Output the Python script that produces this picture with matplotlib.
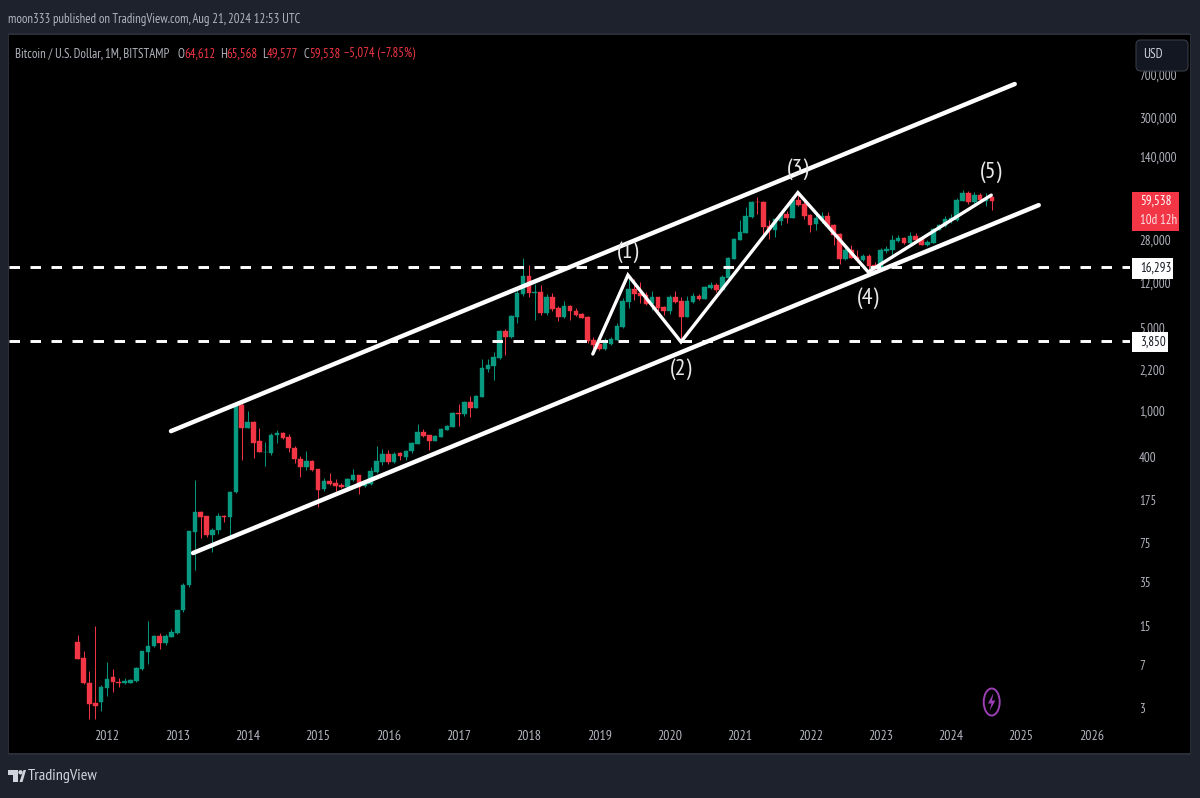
import matplotlib
matplotlib.use("Agg")
import matplotlib.pyplot as plt
from matplotlib.patches import Rectangle, Ellipse, Polygon, FancyBboxPatch
import numpy as np

W, H = 1200, 798

# monthly candles, Aug 2011 to Aug 2024
opens = [
    10.9, 8.0, 4.9, 3.3, 3.35,
    4.42, 5.5, 4.95, 4.85, 4.85, 5.1, 6.4, 8.95, 10, 12.2, 10.6, 12,
    13, 20.3, 33, 93, 137, 127, 87, 96, 127, 125, 203, 1108,
    708, 797, 549, 445, 435, 618, 640, 590, 478, 386, 330, 372,
    318, 216, 252, 242, 233, 224, 257, 283, 228, 236, 300, 365,
    430, 368, 437, 405, 448, 518, 655, 620, 549, 595, 681, 727,
    950, 930, 1185, 1045, 1302, 2240, 2370, 2770, 4700, 4170, 6170, 9640,
    13700, 9900, 10000, 6650, 9100, 7370, 6170, 7660, 6930, 6530, 6170, 3960,
    3650, 3290, 3650, 3960, 5080, 8270, 10630, 9930, 9500, 7950, 9100, 7500,
    6940, 9100, 8520, 6170, 8250, 9290, 8780, 10800, 11500, 10470, 13200, 19270,
    27700, 32000, 43300, 58800, 57900, 36500, 33600, 40100, 46000, 43000, 60500, 56000,
    45300, 38000, 41700, 44300, 37300, 31300, 19000, 22800, 19800, 18700, 20400, 17000,
    16000, 22200, 22800, 27200, 29000, 26000, 30000, 29000, 25300, 26400, 33800, 36600,
    40900, 40900, 59300, 69300, 58000, 66500, 59900, 64612,
]
highs = [
    12.5, 9.1, 6.2, 14.8, 4.7,
    7.35, 6.4, 5.4, 5.4, 5.25, 6.7, 9.2, 16.4, 12.5, 12.9, 12.7, 13.9,
    20.5, 34.5, 95, 256, 141, 128, 101, 135, 129, 207, 1155, 1150,
    982, 815, 708, 538, 640, 681, 660, 625, 495, 410, 452, 379,
    318, 267, 294, 262, 243, 266, 315, 283, 243, 332, 498, 467,
    465, 445, 440, 461, 539, 767, 695, 620, 612, 705, 755, 970,
    1130, 1200, 1320, 1340, 2720, 2700, 3120, 4800, 4850, 6450, 11130, 19500,
    17000, 11700, 11520, 9650, 9800, 7600, 8450, 7750, 7400, 6700, 6300, 4140,
    3990, 4070, 4150, 5480, 8880, 13970, 12970, 12200, 10000, 10200, 9200, 7650,
    9400, 10200, 9150, 9290, 9900, 9600, 11400, 12200, 12000, 13900, 19900, 29000,
    41000, 53100, 59000, 64000, 59000, 41000, 42000, 47000, 48600, 61500, 69000, 59000,
    46500, 45800, 48000, 47500, 38000, 31900, 24000, 25000, 22700, 21000, 21100, 18000,
    23700, 24900, 30500, 30500, 29500, 32500, 31500, 30000, 27500, 35000, 38000, 44500,
    46500, 63000, 73500, 72500, 70500, 70000, 70000, 65568,
]
lows = [
    7.8, 4.8, 2.4, 2.4, 2.83,
    3.79, 4.1, 4.5, 4.8, 4.85, 5.0, 6.35, 7.1, 9.8, 9.5, 10.2, 12,
    12.8, 19.7, 32, 44, 82, 85, 63, 90, 113, 85, 200, 379,
    705, 394, 440, 337, 420, 525, 570, 445, 355, 272, 312, 305,
    152, 208, 233, 207, 220, 216, 253, 195, 224, 233, 294, 344,
    350, 360, 379, 378, 436, 518, 590, 461, 545, 590, 675, 720,
    740, 900, 875, 1040, 1300, 2100, 1810, 2700, 2930, 4100, 5520, 9300,
    9100, 5800, 6400, 6400, 7000, 5750, 6060, 5880, 6300, 6000, 3700, 3250,
    3240, 3240, 3600, 3930, 4950, 7360, 8600, 8060, 7800, 7100, 6520, 6450,
    6500, 8050, 3950, 6150, 8100, 8600, 8700, 10600, 10000, 10400, 13200, 19000,
    27500, 31500, 42800, 45800, 29500, 28300, 29200, 37300, 38500, 42800, 53500, 42000,
    32500, 33800, 38500, 36000, 25100, 17400, 18700, 19500, 18200, 18300, 15000, 15900,
    15500, 21400, 19600, 26900, 25800, 24800, 27500, 25000, 24900, 26000, 33500, 36000,
    38500, 40500, 59000, 56500, 56600, 58500, 53700, 49577,
]
closes = [
    7.85, 4.9, 3.25, 3.1, 4.5,
    5.28, 4.94, 4.85, 5.05, 5.2, 6.55, 9.1, 10.05, 12.3, 10.6, 12.2, 13.3,
    20.3, 33, 94, 137, 125, 87, 97, 127, 125, 203, 1108, 708,
    797, 528, 443, 447, 618, 640, 585, 475, 390, 330, 372, 312,
    211, 252, 237, 228, 224, 262, 283, 224, 236, 306, 372, 427,
    368, 430, 410, 448, 528, 655, 606, 549, 606, 695, 740, 950,
    930, 1185, 1045, 1320, 2290, 2420, 2830, 4700, 4170, 6300, 9790, 13700,
    9790, 10000, 6650, 9100, 7220, 6170, 7660, 7000, 6400, 6040, 3880, 3600,
    3290, 3720, 4010, 5170, 8420, 10630, 9650, 9280, 7950, 9100, 7380, 6940,
    9100, 8250, 6170, 8520, 9290, 8780, 11040, 11500, 10430, 13450, 19350, 28200,
    32400, 44200, 58100, 58000, 35700, 33600, 41500, 46000, 42500, 60500, 54900, 44200,
    37200, 42600, 44200, 36500, 30500, 19000, 22800, 19500, 18700, 20400, 16700, 16000,
    22900, 23100, 27700, 29000, 26000, 30000, 28000, 25300, 26800, 34700, 37200, 41800,
    42600, 60500, 69300, 58000, 66500, 60500, 62300, 59538,
]
first_month = -5  # months counted from Jan 2012

years = [str(y) for y in range(2012, 2027)]
price_ticks = [3, 7, 15, 35, 75, 175, 400, 1000, 2200, 5000, 12000, 28000, 140000, 300000, 700000]

# drawings on top of the candles: (month, price)
upper_channel = [(10.92, 666), (154.9, 582000)]
lower_channel = [(14.68, 61.7), (159.0, 54800)]
wave_path = [(82.9, 3000), (88.9, 14000), (97.95, 3800), (117.9, 70000), (129.9, 14860), (150.9, 66600)]
wave_labels = ["(1)", "(2)", "(3)", "(4)", "(5)"]
wave_label_pos = [(88.9, 21900), (97.95, 2240), (117.9, 110600), (129.9, 8930), (150.85, 104300)]
levels = [16293, 3850]

UP = "#089981"
DOWN = "#f23645"
PANEL = "#1e222d"
GREY = "#b2b5be"

plt.rcParams["font.family"] = ["PT Sans Narrow", "Roboto Condensed", "Roboto", "DejaVu Sans"]


def fx(px):
    return px / W


def fy(py):
    return 1 - py / H


def px_text(x, y, s, **kw):
    kw.setdefault("color", GREY)
    kw.setdefault("fontsize", 9.2)
    kw.setdefault("va", "center")
    kw.setdefault("zorder", 6)
    return fig.text(fx(x), fy(y), s, **kw)


def px_rect(x0, y0, x1, y1, **kw):
    r = Rectangle((fx(x0), fy(y1)), fx(x1 - x0), (y1 - y0) / H, transform=fig.transFigure, **kw)
    fig.add_artist(r)
    return r


fig = plt.figure(figsize=(W / 100, H / 100), dpi=100, facecolor=PANEL)

# black chart panel
px_rect(8, 33, 1191, 755, facecolor="#2a2e39", edgecolor="none", zorder=-3)
px_rect(9, 35, 1190, 753, facecolor="black", edgecolor="none", zorder=-2)

ax = fig.add_axes([fx(9), fy(722), fx(1130 - 9), (722 - 35) / H])
ax.set_facecolor("black")
for s in ax.spines.values():
    s.set_visible(False)

months = np.arange(first_month, first_month + len(opens))
o = np.array(opens, dtype=float)
h = np.array(highs, dtype=float)
l = np.array(lows, dtype=float)
c = np.array(closes, dtype=float)
rising = c >= o
colors = np.where(rising, UP, DOWN)

ax.set_yscale("log")
ax.vlines(months, l, h, colors=colors, linewidth=0.7, zorder=2)
ax.bar(months, np.abs(c - o), bottom=np.minimum(o, c), width=0.78, color=colors,
       edgecolor=colors, linewidth=0.3, zorder=3)

# px scale: 5.86 px per month, Jan 2012 at x=107; 118 px per decade, 3 at y=708
ax.set_xlim((9 - 107) / 5.86, (1130 - 107) / 5.86)
ax.set_ylim(3 * 10 ** ((708 - 722) / 118), 3 * 10 ** ((708 - 35) / 118))

for seg in (upper_channel, lower_channel):
    xs, ys = zip(*seg)
    ax.plot(xs, ys, color="white", linewidth=3.2, solid_capstyle="round", zorder=5)

xs, ys = zip(*wave_path)
ax.plot(xs, ys, color="white", linewidth=2.4, solid_capstyle="round", solid_joinstyle="miter", zorder=5)

for lv in levels:
    ax.axhline(lv, color="white", linewidth=2.1, linestyle=(0, (3.6, 3.6)), zorder=5)

for s, (mx, my) in zip(wave_labels, wave_label_pos):
    ax.text(mx, my, s, color="#e8e8e8", fontsize=17.5, ha="center", va="center", zorder=6)

ax.set_xticks(np.arange(len(years)) * 12, labels=years)
ax.set_yticks(price_ticks, labels=[f"{v:,}" for v in price_ticks])
ax.minorticks_off()
ax.yaxis.tick_right()
ax.tick_params(axis="both", length=0, labelcolor=GREY)
ax.tick_params(axis="y", pad=6.5, labelsize=9.3)
ax.tick_params(axis="x", pad=6, labelsize=10)

# header
px_text(8, 20, "moon333 published on TradingView.com, Aug 21, 2024 12:53 UTC")
px_text(15, 54, "Bitcoin / U.S. Dollar, 1M, BITSTAMP")
last_o, last_h, last_l, last_c = opens[-1], highs[-1], lows[-1], closes[-1]
change = last_c - last_o
pct = change / last_o * 100
for x, s, color in [
    (177, "O", GREY), (184, f"{last_o:,}", DOWN),
    (220, "H", GREY), (226, f"{last_h:,}", DOWN),
    (262, "L", GREY), (267, f"{last_l:,}", DOWN),
    (303, "C", GREY), (309, f"{last_c:,}", DOWN),
    (344, f"\u2212{abs(change):,} (\u2212{abs(pct):.2f}%)", DOWN),
]:
    px_text(x, 54, s, color=color)

# currency button
btn = FancyBboxPatch((fx(1136), fy(71)), fx(52), 31 / H, boxstyle="round,pad=0,rounding_size=0.004",
                     transform=fig.transFigure, facecolor="#131722", edgecolor="#363a45",
                     linewidth=0.8, zorder=5, mutation_aspect=1.5)
fig.add_artist(btn)
px_text(1143, 54, "USD", color="#d1d4dc", fontsize=9.5)

# price markers on the axis
px_rect(1132, 192, 1179, 231, facecolor=DOWN, edgecolor="none", zorder=5)
px_text(1140, 201, f"{last_c:,}", color="white", fontsize=9.3)
px_text(1140, 220, "10d 12h", color="#fde3e5", fontsize=9.3)
px_rect(1132, 258, 1173, 278.5, facecolor="white", edgecolor="none", zorder=5)
px_text(1140, 268, f"{levels[0]:,}", color="#131722", fontsize=9.3)
px_rect(1132, 332.5, 1168, 352.5, facecolor="white", edgecolor="none", zorder=5)
px_text(1140, 342, f"{levels[1]:,}", color="#131722", fontsize=9.3)

# lightning badge
fig.add_artist(Ellipse((fx(991.7), fy(702)), 16 / W, 27 / H, transform=fig.transFigure,
                       facecolor="none", edgecolor="#9c3fb5", linewidth=1.4, zorder=5))
bolt = [(993.5, 693), (988, 703.5), (991.5, 703.5), (989.5, 711), (995.5, 700.5), (992, 700.5)]
fig.add_artist(Polygon([(fx(x), fy(y)) for x, y in bolt], closed=True, transform=fig.transFigure,
                       facecolor="#9c3fb5", edgecolor="none", zorder=5))

# footer logo
logo_t = [(8, 770), (18, 770), (18, 782), (13, 782), (13, 775), (8, 775)]
logo_v = [(19.5, 782), (23.5, 770), (26, 770), (22.5, 782)]
for poly in (logo_t, logo_v):
    fig.add_artist(Polygon([(fx(x), fy(y)) for x, y in poly], closed=True, transform=fig.transFigure,
                           facecolor="#d1d4dc", edgecolor="none", zorder=5))
fig.add_artist(Ellipse((fx(20.5), fy(772.3)), 4.4 / W, 4.4 / H, transform=fig.transFigure,
                       facecolor="#d1d4dc", edgecolor="none", zorder=5))
px_text(28, 776, "TradingView", color="#d1d4dc", fontsize=11.5)

fig.savefig("out.png", dpi=100, facecolor=PANEL)
